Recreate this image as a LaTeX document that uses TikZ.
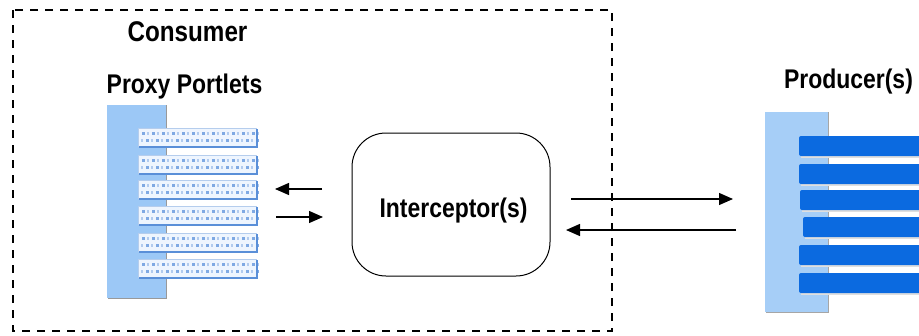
\documentclass[tikz,border=0pt]{standalone}
\usepackage{fontspec}
\newfontfamily\lblfont{Liberation Sans}[FakeStretch=0.85]
\usetikzlibrary{arrows.meta}
\definecolor{colblue}{HTML}{9CC8F6}
\definecolor{prodbar}{HTML}{0B6AE0}
\definecolor{barfill}{HTML}{EEF5FE}
\definecolor{dotblue}{HTML}{7FA9E3}
\definecolor{baredge}{HTML}{5A8FD8}
\begin{document}
\begin{tikzpicture}[x=1pt,y=-1pt,
  lbl/.style={font=\lblfont\bfseries\fontsize{27}{32}\selectfont, anchor=base, inner sep=0pt},
  arr/.style={line width=1.3pt, -{Triangle[length=14pt,width=12pt]}},
  groupbox/.style={line width=1.1pt, dash pattern=on 8pt off 7pt},
  icpbox/.style={draw, line width=1pt, rounded corners=34pt, minimum width=198pt, minimum height=143pt, inner sep=0pt}]
\useasboundingbox (0,0) rectangle (919,335);
\fill[white] (0,0) rectangle (919,335);

% consumer group
\draw[groupbox] (13,10) rectangle (612,331);
\node[lbl, font=\lblfont\bfseries\fontsize{28.5}{33}\selectfont] (consumer) at (187.5,41.7) {Consumer};
\node[lbl] (proxy) at (184.5,93) {Proxy Portlets};

% proxy portlets column
\fill[colblue] (107,105) rectangle (166,298);
\draw[gray!80, line width=1pt] (166,105) -- (166,298) -- (108,298);
\foreach \yy in {128,155,180,206,233,259} {
  \fill[barfill] (138,\yy) rectangle (257,\yy+19);
  \foreach \xx in {142,152,...,252} {
    \fill[dotblue] (\xx,\yy+4) rectangle ++(2.5,3);
    \fill[dotblue!60] (\xx+5,\yy+4) rectangle ++(2,3);
    \fill[dotblue] (\xx+4,\yy+11) rectangle ++(2.5,3);
    \fill[dotblue!60] (\xx-1,\yy+11) rectangle ++(2,3);
  }
  \draw[baredge!45, line width=0.8pt] (138,\yy+19) -- (138,\yy) -- (257,\yy);
  \draw[baredge, line width=1.3pt] (139,\yy+19) -- (257,\yy+19) -- (257,\yy+1);
}

% interceptor
\node[icpbox] (icp) at (451,204.5) {};
\node[lbl] (icplbl) at (453.5,217) {Interceptor(s)};

% producer
\node[lbl] (prod) at (848.5,88.7) {Producer(s)};
\fill[colblue!90!white] (765,112) rectangle (828,312);
\draw[gray!70, line width=1pt] (828,112) -- (828,312) -- (766,312);
\foreach \yy/\xs in {136/799,164/799,190/800,217/803,245/799,273/799} {
  \draw[gray!25, line width=1.5pt] (\xs+2,\yy+21) -- (919,\yy+21);
  \fill[prodbar, rounded corners=2pt] (\xs,\yy) rectangle (930,\yy+20);
}

% connectors
\coordinate (l1s) at (322,189);
\coordinate (l1e) at (275,189);
\coordinate (l2s) at (276,217);
\coordinate (l2e) at (323,217);
\coordinate (r1s) at (571,199);
\coordinate (r1e) at (733,199);
\coordinate (r2s) at (736,230);
\coordinate (r2e) at (566,230);
\draw[arr] (l1s) -- (l1e);
\draw[arr] (l2s) -- (l2e);
\draw[arr] (r1s) -- (r1e);
\draw[arr] (r2s) -- (r2e);
\end{tikzpicture}
\end{document}
